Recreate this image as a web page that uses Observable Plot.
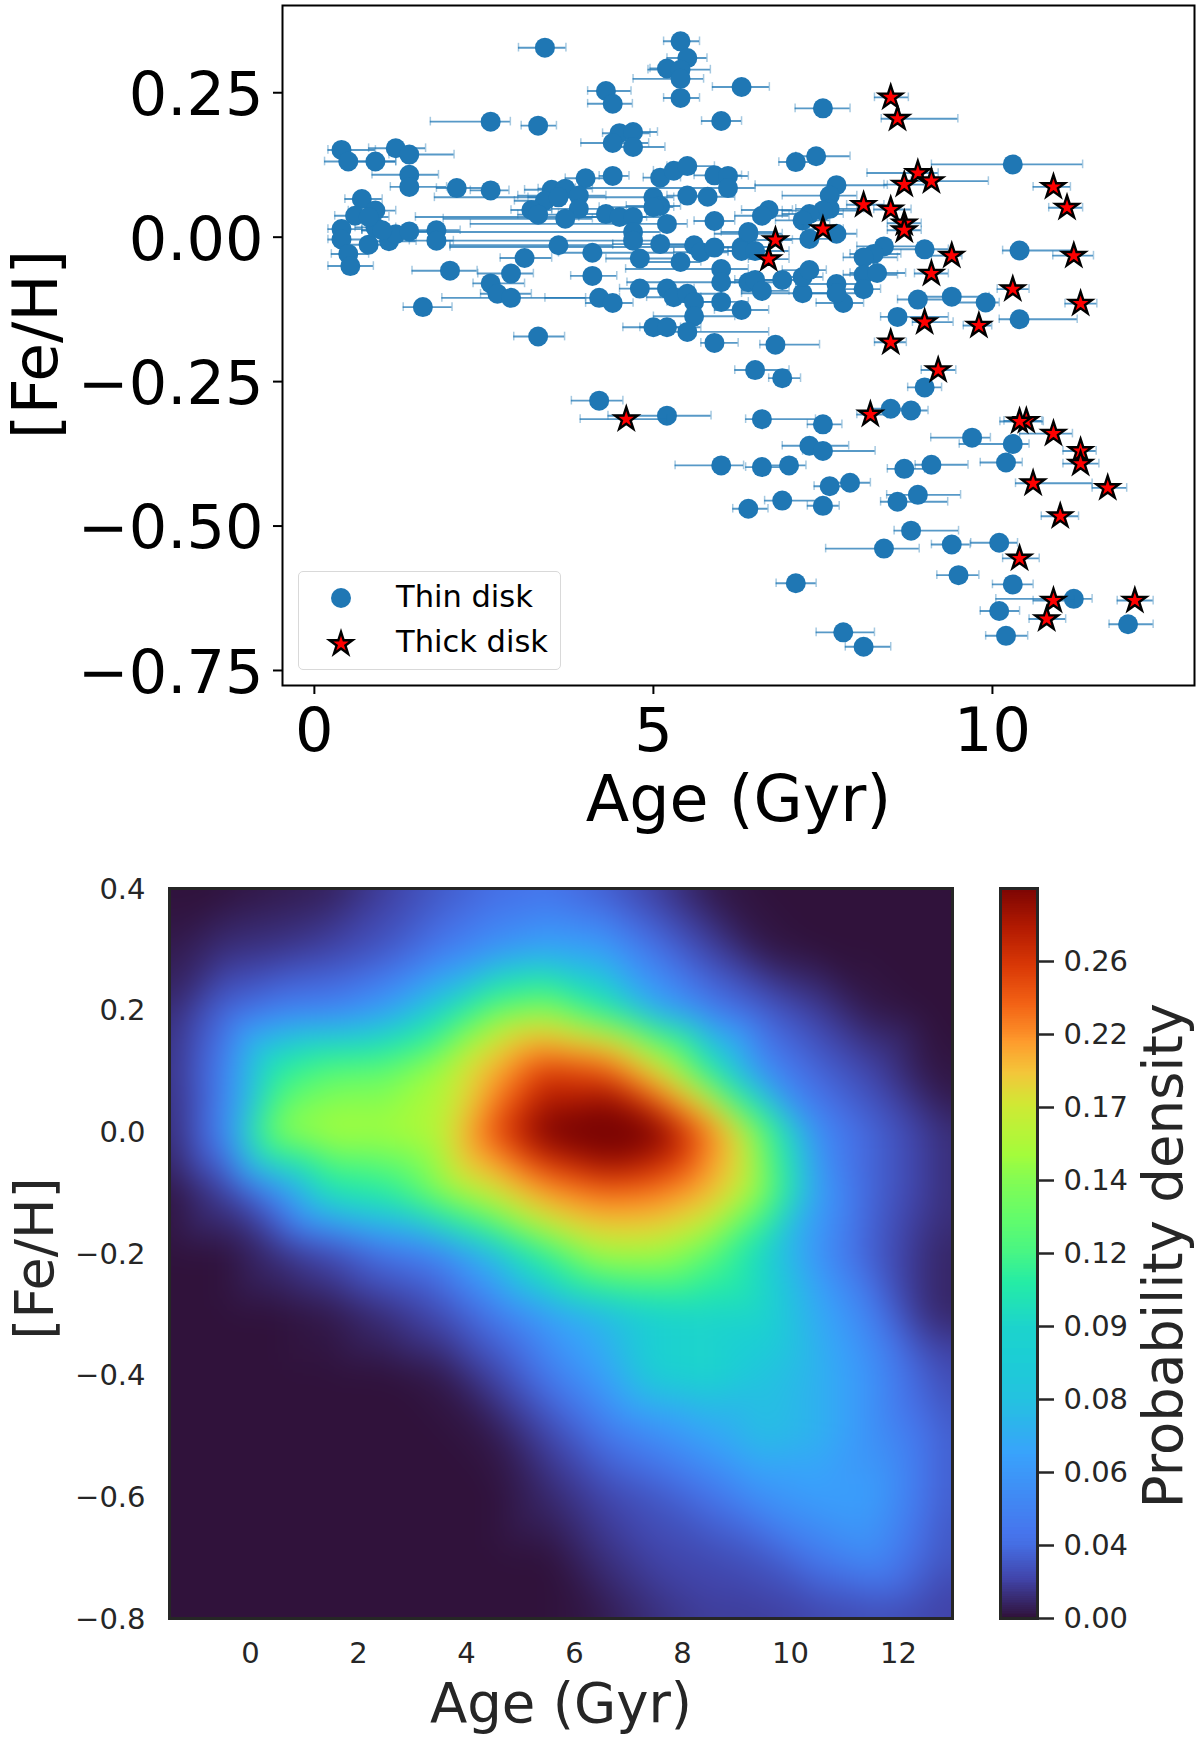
<!DOCTYPE html>
<html>
<head>
<meta charset="utf-8">
<script src="https://cdn.jsdelivr.net/npm/d3@7"></script>
<script src="https://cdn.jsdelivr.net/npm/@observablehq/plot@0.6"></script>
<style>
html,body{margin:0;padding:0;background:#fff}
#page{position:relative;width:1200px;height:1741px;font-family:"DejaVu Sans",sans-serif;overflow:hidden}
.panel{position:absolute;left:0}
#legend{position:absolute;left:298px;top:571px;width:261px;height:97px;border:1.5px solid #d9d9d9;border-radius:5px;background:rgba(255,255,255,.85)}
#legend svg{position:absolute;left:0;top:0}
#legend span{position:absolute;left:97px;font-size:30.5px;line-height:36px;color:#000;white-space:nowrap}
</style>
</head>
<body>
<div id="page"></div>
<script>
// [age, [Fe/H], age lower bound, age upper bound]
const thinDisk = [
[3.4,.328,3.01,3.71],[5.4,.339,5.15,5.68],[5.5,.31,5.2,5.79],[5.2,.292,4.95,5.5],[5.4,.29,4.92,5.84],
[5.4,.274,4.7,5.74],[5.4,.241,5.15,5.68],[6.3,.26,5.87,6.71],[4.3,.253,4.03,4.67],[4.4,.231,4.03,4.69],
[2.6,.2,1.71,2.89],[3.3,.193,3.05,3.57],[6,.201,5.71,6.3],[4.5,.18,4.25,4.95],[4.7,.182,4.4,5.06],
[4.4,.163,3.93,4.93],[4.7,.156,4.45,5.17],[.4,.151,.2,.9],[.5,.131,.15,1.2],[.9,.131,.6,1.2],
[1.2,.154,.8,1.64],[1.4,.143,1.1,2.06],[1.4,.108,.85,1.83],[1.4,.087,1.12,1.95],[2.1,.085,1.8,2.5],
[2.6,.081,2.3,2.87],[4,.102,3.7,4.3],[4.4,.106,4.2,4.64],[5.1,.103,4.85,5.4],[5.3,.115,5,5.6],
[5.5,.123,5.2,5.9],[5.9,.107,5.6,6.3],[6.1,.106,5.8,6.4],[6.1,.085,3.85,6.5],[3.5,.082,3.1,3.9],
[3.7,.084,3.3,4.1],[3.9,.072,3,4.3],[3.4,.063,2.95,3.7],[3.6,.069,3.15,4],[3.2,.047,2.9,3.5],
[3.3,.039,3,3.7],[3.9,.049,3.5,4.3],[3.7,.032,1.9,4.1],[4.3,.04,3.6,4.7],[4.5,.035,3.9,4.9],
[4.7,.035,1.49,5.1],[5,.069,1.77,5.3],[5.1,.054,4.6,5.4],[5,.052,4.2,5.3],[5.5,.072,5.2,5.9],
[5.8,.07,5.5,6.2],[5.2,.023,2.3,5.5],[5.9,.028,5.6,6.2],[4.7,.009,.95,5.1],[4.7,-.006,1.7,5],
[5.1,-.012,4.4,5.6],[4.8,-.037,4.3,5.3],[5.4,-.043,4.9,5.7],[5.6,-.014,5.2,6],[5.7,-.026,5.3,6.1],
[5.9,-.018,5.5,6.3],[6.3,-.017,2,6.7],[6.4,.006,5.9,6.9],[6,-.055,4.59,6.4],[6,-.078,4.61,6.4],
[6,-.112,5.3,6.4],[6.4,-.078,6,7],[6.3,-.126,5.9,6.7],[4.8,-.089,4.5,5.2],[5.2,-.089,4.8,5.6],
[5.3,-.104,4.9,5.7],[5.5,-.098,5.1,6],[5.6,-.112,5.2,6],[5.6,-.137,5,6.2],[5.5,-.164,5.2,6.7],
[5,-.156,4.55,5.4],[5.2,-.156,4.8,5.7],[5.9,-.183,5.7,6.25],[4.2,-.105,3.4,4.5],[4.4,-.114,4,4.7],
[4.1,-.027,3.6,5.3],[4.1,-.067,3.78,4.46],[3.6,-.014,2,4.4],[3.1,-.036,2.74,3.5],[2.9,-.063,2.41,3.23],
[2.6,-.08,2.34,3.1],[2.7,-.098,2.45,3.2],[2.9,-.105,1.88,4],[2,-.058,1.44,2.4],[1.6,-.121,1.31,2.03],
[3.3,-.172,2.94,3.69],[.7,.066,.45,1],[.9,.046,.5,1.2],[.6,.037,.3,.9],[.4,.014,.2,.7],
[.4,-.004,.2,.8],[.5,-.029,.25,.8],[.53,-.05,.2,.87],[.8,-.013,.5,1.1],[1.1,-.007,.8,1.5],
[.9,.017,.6,1.2],[1.2,.005,.9,1.5],[1.4,.01,1.1,1.7],[1.8,.012,.7,2.15],[1.8,-.006,1.4,2.05],
[1,.012,.7,1.3],[.8,.035,.5,1.1],
[7.5,.223,7.09,7.9],[7.4,.14,7.1,7.9],[7.1,.13,6.85,7.4],[10.3,.126,9.1,11.33],[7.7,.09,6.5,8.45],
[7.6,.072,6.9,8],[6.7,.047,6.3,7.05],[6.6,.037,6.2,7],[6.4,.009,6,6.8],[6.3,-.024,5.9,6.7],
[6.5,-.024,6.1,7],[7.6,.049,7.1,8.1],[7.5,.046,6.9,8],[7.3,.04,6.9,7.8],[7.2,.029,6.8,7.6],
[7.3,-.003,6.9,7.7],[7.7,.006,7.3,8],[8.4,-.016,8,8.9],[8.25,-.029,7.9,8.65],[8.1,-.035,7.8,8.6],
[8.1,-.065,7.8,8.6],[8.3,-.062,7.9,8.72],[8.1,-.09,7.7,8.35],[7.7,-.081,7.1,8.15],[7.8,-.114,7.4,8.1],
[7.7,-.097,7.2,8.1],[7.2,-.097,6.3,7.7],[7.2,-.069,6.9,7.5],[7.3,-.057,6.9,7.55],[6.9,-.074,6.6,7.3],
[6.5,-.074,6.2,6.9],[6.6,-.093,6.3,7],[6.8,-.186,6.57,7.45],[9,-.021,8.4,9.35],[10.4,-.023,10.15,11.2],
[8.9,-.108,8.6,9.4],[9.4,-.103,9,9.95],[9.9,-.113,9.4,10.1],[8.6,-.138,8.35,9.35],[10.4,-.142,10.1,11.25],
[4.2,-.283,3.79,4.55],[5.2,-.309,4.33,5.85],[6,-.395,5.32,6.33],[6.4,-.47,6.17,6.69],[6.5,-.23,6.2,7],
[6.9,-.244,6.7,7.17],[6.6,-.315,6.36,7.39],[7.5,-.324,7.27,7.78],[7.3,-.361,6.9,7.88],[7.5,-.37,7.2,8.27],
[6.6,-.398,6.36,6.9],[7,-.395,6.7,7.25],[8.7,-.401,8.45,9],[9.1,-.394,8.86,9.64],[7.6,-.431,7.37,7.9],
[7.9,-.425,7.6,8.2],[6.9,-.456,6.64,7.5],[7.5,-.465,7.27,7.74],[8.6,-.458,8.35,9.34],[8.9,-.446,8.44,9.53],
[8.8,-.508,8.55,9.5],[8.4,-.539,7.54,8.92],[9.4,-.532,9.1,9.67],[10.1,-.529,9.68,10.37],[7.1,-.599,6.81,7.4],
[9.5,-.585,9.18,9.8],[10.3,-.601,10,10.6],[10.1,-.647,9.82,10.4],[11.2,-.626,10.05,11.47],[10.2,-.69,9.9,10.52],
[12,-.67,11.72,12.37],[7.8,-.684,7.4,8.26],[8.1,-.709,7.83,8.5],[9,-.26,8.75,9.25],[8.5,-.297,8.2,8.8],
[8.8,-.3,8.5,9.05],[9.7,-.347,9.09,9.97],[10.3,-.358,9.51,10.54],[10.2,-.39,9.82,10.44]
];
const thickDisk = [
[8.5,.242,8.26,8.76],[8.6,.205,8.36,9.49],[8.9,.111,8.15,9.2],[9.1,.097,8.8,9.94],[8.7,.091,8.4,9],
[10.9,.087,10.6,11.15],[11.1,.051,10.83,11.33],[8.1,.056,7.85,8.4],[8.5,.048,8.25,8.8],[8.7,.024,8.45,8.95],
[8.7,.012,8.45,8.95],[7.5,.014,7.2,7.8],[6.8,-.005,6.5,7.05],[6.7,-.038,6.4,7],[9.4,-.032,9.1,9.55],
[9.1,-.063,8.85,9.35],[11.2,-.032,10.89,11.49],[11.3,-.115,11.07,11.54],[10.3,-.09,10.07,10.54],[9.8,-.153,9.57,9.99],
[9,-.147,8.82,9.42],[8.5,-.182,8.26,8.73],[4.6,-.315,3.92,5.2],[9.2,-.23,8.95,9.46],[8.2,-.307,8,8.45],
[10.5,-.318,10.17,10.73],[10.4,-.319,10.11,10.75],[10.9,-.34,10.4,11.18],[11.3,-.37,11.04,11.53],[11.3,-.392,11.04,11.57],
[10.6,-.426,10.34,11.47],[11.7,-.434,11.47,11.98],[11,-.483,10.72,11.27],[10.4,-.556,10.15,10.69],[10.9,-.629,10.6,11.2],
[10.8,-.661,10.54,11.08],[12.1,-.629,11.84,12.37]
];
const legendEntries = [{label:"Thin disk",symbol:"circle"},{label:"Thick disk",symbol:"star"}];

const gridAges = [-1.5,-.5,.5,1.5,2.5,3.5,4.5,5.5,6.5,7.5,8.5,9.5,10.5,11.5,12.5,13.5];
const gridFeh  = [.4,.3,.2,.1,0,-.1,-.2,-.3,-.4,-.5,-.6,-.7,-.8];
const gridRows = [
[0,0,1,2,6,10,13,14,11,6,1,0,0,0,0,0],
[1,4,5,7,10,15,19,22,21,14,7,1,0,0,0,0],
[3,12,16,17,21,30,43,47,36,23,16,11,6,1,0,0],
[4,16,36,42,43,50,68,86,82,60,35,18,12,7,1,0],
[3,17,47,51,50,53,82,102,112,102,76,42,18,12,6,1],
[0,6,18,33,36,46,56,71,78,76,66,46,21,12,6,1],
[0,0,4,8,14,17,26,38,50,50,42,30,19,11,4,1],
[0,0,0,1,4,8,15,21,25,29,30,30,23,16,4,1],
[0,0,0,0,0,1,7,15,21,29,30,27,24,19,11,4],
[0,0,0,0,0,0,1,7,14,18,22,26,24,19,14,7],
[0,0,0,0,0,0,0,3,7,10,14,19,21,21,14,7],
[0,0,0,0,0,0,0,0,4,7,8,10,15,18,12,7],
[0,0,0,0,0,0,0,0,1,4,6,6,7,8,7,7]
];
const densityTop = 0.30;
const densityCells = gridRows.flatMap((row,j)=>row.map((v,i)=>({age:gridAges[i],feh:gridFeh[j],density:v/100*densityTop})));

const turboColors = ["#30123b","#4145ab","#4675ed","#39a2fc","#1bcfd4","#24eca6","#61fc6c","#a4fc3b","#d1e834","#f3c63a","#fe9b2d","#f36315","#d93806","#b11901","#7a0403"];
const colorbarStops = [0,.04,.06,.08,.09,.12,.14,.17,.22,.26,densityTop];
const densityLevels = d3.range(0,300).map(d=>d/1000);
const stopIndex = d3.scaleLinear(colorbarStops,d3.range(colorbarStops.length));

const font = "DejaVu Sans";
const blue = "#1f77b4";
const dark = "#262626";
const colorScale = {type:"linear",domain:turboColors.map((c,i)=>i/(turboColors.length-1)*densityTop),range:turboColors,clamp:true};
const capHalf = 0.0075;
const noLabel = () => "";
const page = document.getElementById("page");

function place(svg,top){
  const holder=document.createElement("div");
  holder.className="panel";
  holder.style.top=top+"px";
  holder.appendChild(svg);
  page.appendChild(holder);
}

const errorMarks = rows => [
  Plot.ruleY(rows,{y:d=>d[1],x1:d=>d[2],x2:d=>d[3],stroke:blue,strokeOpacity:.75,strokeWidth:1.9}),
  Plot.ruleX(rows,{x:d=>d[2],y1:d=>d[1]-capHalf,y2:d=>d[1]+capHalf,stroke:blue,strokeOpacity:.4,strokeWidth:1.5}),
  Plot.ruleX(rows,{x:d=>d[3],y1:d=>d[1]-capHalf,y2:d=>d[1]+capHalf,stroke:blue,strokeOpacity:.4,strokeWidth:1.5})
];

// top: age-metallicity scatter
place(Plot.plot({
  width:1200,height:860,marginLeft:282,marginRight:6,marginTop:5,marginBottom:175,
  style:{fontFamily:font,background:"transparent",overflow:"visible"},
  x:{domain:[-.47,12.98]},
  y:{domain:[-.776,.401]},
  marks:[
    ...errorMarks(thinDisk),
    Plot.dot(thinDisk,{x:d=>d[0],y:d=>d[1],r:10,fill:blue}),
    ...errorMarks(thickDisk),
    Plot.dot(thickDisk,{x:d=>d[0],y:d=>d[1],symbol:"star",r:7.2,fill:"#ff0000",stroke:"#000",strokeWidth:2.4,strokeLinejoin:"miter",strokeMiterlimit:10}),
    Plot.frame({stroke:"#000",strokeWidth:2}),
    Plot.axisX({ticks:[0,5,10],tickSize:9,tickFormat:noLabel,label:null,color:"#000",strokeWidth:2}),
    Plot.axisX({ticks:[0,5,10],tickSize:0,tickPadding:23,fontSize:60.5,label:null,tickFormat:d=>String(d),color:"#000"}),
    Plot.axisY({ticks:[.25,0,-.25,-.5,-.75],tickSize:9,tickFormat:noLabel,label:null,color:"#000",strokeWidth:2}),
    Plot.axisY({ticks:[.25,0,-.25,-.5,-.75],tickSize:0,tickPadding:19,fontSize:60.5,dy:3,label:null,tickFormat:".2f",color:"#000"}),
    Plot.text(["Age (Gyr)"],{frameAnchor:"bottom",lineAnchor:"middle",dy:115,fontSize:63.5,fill:"#000"}),
    Plot.text(["[Fe/H]"],{frameAnchor:"left",textAnchor:"middle",lineAnchor:"middle",rotate:-90,dx:-246,dy:-1,fontSize:63,fill:"#000"})
  ]
}),0);

// legend of the scatter
const legend=document.createElement("div");
legend.id="legend";
const legendSvg=d3.create("svg").attr("width",90).attr("height",97);
legendEntries.forEach((e,i)=>{
  const cy=26+i*45;
  const path=e.symbol==="star"?d3.symbol(d3.symbolStar,Math.PI*7.2*7.2)():d3.symbol(d3.symbolCircle,Math.PI*100)();
  legendSvg.append("path").attr("d",path).attr("transform",`translate(42,${cy+i})`)
    .attr("fill",e.symbol==="star"?"#ff0000":blue)
    .attr("stroke",e.symbol==="star"?"#000":"none").attr("stroke-width",2.4);
  const s=document.createElement("span");
  s.textContent=e.label;
  s.style.top=(cy-19)+"px";
  legend.appendChild(s);
});
legend.appendChild(legendSvg.node());
page.appendChild(legend);

// bottom: density map
place(Plot.plot({
  width:1200,height:881,marginLeft:169,marginRight:248,marginTop:28,marginBottom:123,
  style:{fontFamily:font,background:"transparent",overflow:"visible"},
  x:{domain:[-1.5,13]},
  y:{domain:[-.8,.4]},
  color:colorScale,
  marks:[
    Plot.raster(densityCells,{x:"age",y:"feh",fill:"density",interpolate:"barycentric",blur:14}),
    Plot.frame({stroke:dark,strokeWidth:3}),
    Plot.axisX({ticks:d3.range(0,13,2),tickSize:0,tickPadding:24,fontSize:29,label:null,tickFormat:d=>String(d),color:dark}),
    Plot.axisY({ticks:[.4,.2,0,-.2,-.4,-.6,-.8],tickSize:0,tickPadding:24,fontSize:29,dy:1,label:null,tickFormat:".1f",color:dark}),
    Plot.text(["Age (Gyr)"],{frameAnchor:"bottom",lineAnchor:"middle",dy:86,fontSize:54.5,fill:dark}),
    Plot.text(["[Fe/H]"],{frameAnchor:"left",textAnchor:"middle",lineAnchor:"middle",rotate:-90,dx:-134,dy:5,fontSize:54,fill:dark})
  ]
}),860);

// bottom: colour bar with evenly spaced stops
place(Plot.plot({
  width:1200,height:881,marginLeft:1000,marginRight:163,marginTop:28,marginBottom:123,
  style:{fontFamily:font,background:"transparent",overflow:"visible"},
  color:colorScale,
  y:{domain:[0,colorbarStops.length-1]},
  marks:[
    Plot.rectY(densityLevels,{y1:d=>stopIndex(d),y2:d=>stopIndex(d+.001),fill:d=>d,shapeRendering:"crispEdges"}),
    Plot.frame({stroke:dark,strokeWidth:3}),
    Plot.axisY({anchor:"right",ticks:d3.range(colorbarStops.length-1),tickSize:16,tickPadding:10,fontSize:29,label:null,tickFormat:i=>colorbarStops[i].toFixed(2),color:dark,strokeWidth:2.5}),
    Plot.text(["Probability density"],{frameAnchor:"right",textAnchor:"middle",lineAnchor:"middle",rotate:-90,dx:127,dy:2,fontSize:54.5,fill:dark})
  ]
}),860);
</script>
</body>
</html>
